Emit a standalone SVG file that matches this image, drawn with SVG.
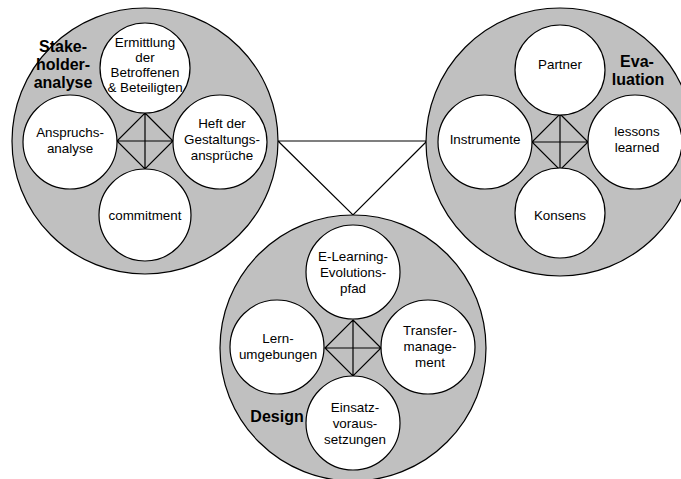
<svg xmlns="http://www.w3.org/2000/svg" width="681" height="479" viewBox="0 0 681 479">
  <defs>
    <style>
      .big { fill: #c0c0c0; stroke: #000; stroke-width: 1.2; }
      .small { fill: #fff; stroke: #000; stroke-width: 1.2; }
      .diam { fill: none; stroke: #000; stroke-width: 1.2; }
      .conn { fill: none; stroke: #000; stroke-width: 1.2; }
      text { font-family: "Liberation Sans", Arial, sans-serif; fill: #000; text-anchor: middle; }
      .t { font-size: 13.4px; }
      .h { font-size: 16px; font-weight: bold; }
    </style>
  </defs>

  <!-- connectors: triangle linking the three phases -->
  <g id="connectors">
    <path class="conn" d="M278,141 L427,141 L353,215 Z"/>
  </g>

  <!-- Stakeholderanalyse -->
  <g id="stakeholderanalyse">
    <circle class="big" cx="145" cy="141" r="133"/>
    <path class="diam" d="M145,113 L173,141 L145,169 L117,141 Z M145,113 V169 M117,141 H173"/>
    <text class="h" x="63" y="52">Stake-</text>
    <text class="h" x="63" y="70">holder-</text>
    <text class="h" x="63" y="88">analyse</text>
  </g>
  <g id="ermittlung">
    <circle class="small" cx="145" cy="68" r="45"/>
    <text class="t" x="145" y="47">Ermittlung</text>
    <text class="t" x="145" y="62">der</text>
    <text class="t" x="145" y="77">Betroffenen</text>
    <text class="t" x="145" y="92">&amp; Beteiligten</text>
  </g>
  <g id="anspruchsanalyse">
    <circle class="small" cx="70" cy="142" r="47"/>
    <text class="t" x="70" y="137">Anspruchs-</text>
    <text class="t" x="70" y="153">analyse</text>
  </g>
  <g id="heft">
    <circle class="small" cx="220" cy="142" r="47"/>
    <text class="t" x="222" y="128">Heft der</text>
    <text class="t" x="222" y="144">Gestaltungs-</text>
    <text class="t" x="222" y="160">ansprüche</text>
  </g>
  <g id="commitment">
    <circle class="small" cx="145" cy="215" r="46"/>
    <text class="t" x="145" y="220">commitment</text>
  </g>

  <!-- Evaluation -->
  <g id="evaluation">
    <circle class="big" cx="560" cy="142" r="134"/>
    <path class="diam" d="M560,114 L588,142 L560,170 L532,142 Z M560,114 V170 M532,142 H588"/>
    <text class="h" x="637" y="67">Eva-</text>
    <text class="h" x="638" y="85">luation</text>
  </g>
  <g id="partner">
    <circle class="small" cx="560" cy="70" r="45"/>
    <text class="t" x="560" y="69">Partner</text>
  </g>
  <g id="instrumente">
    <circle class="small" cx="485" cy="142" r="47"/>
    <text class="t" x="485" y="144">Instrumente</text>
  </g>
  <g id="lessons">
    <circle class="small" cx="635" cy="142" r="47"/>
    <text class="t" x="637" y="136">lessons</text>
    <text class="t" x="637" y="152">learned</text>
  </g>
  <g id="konsens">
    <circle class="small" cx="560" cy="213" r="45"/>
    <text class="t" x="560" y="220">Konsens</text>
  </g>

  <!-- Design -->
  <g id="design">
    <circle class="big" cx="353" cy="348" r="133"/>
    <path class="diam" d="M353,320 L381,348 L353,376 L325,348 Z M353,320 V376 M325,348 H381"/>
    <text class="h" x="277" y="422">Design</text>
  </g>
  <g id="evolutionspfad">
    <circle class="small" cx="353" cy="272" r="47"/>
    <text class="t" x="353" y="261">E-Learning-</text>
    <text class="t" x="353" y="277">Evolutions-</text>
    <text class="t" x="353" y="293">pfad</text>
  </g>
  <g id="lernumgebungen">
    <circle class="small" cx="277" cy="347" r="47"/>
    <text class="t" x="278" y="343">Lern-</text>
    <text class="t" x="278" y="359">umgebungen</text>
  </g>
  <g id="transfermanagement">
    <circle class="small" cx="428" cy="347" r="47"/>
    <text class="t" x="430" y="335">Transfer-</text>
    <text class="t" x="430" y="351">manage-</text>
    <text class="t" x="430" y="367">ment</text>
  </g>
  <g id="einsatzvoraussetzungen">
    <circle class="small" cx="353" cy="423" r="47"/>
    <text class="t" x="355" y="412">Einsatz-</text>
    <text class="t" x="355" y="428">voraus-</text>
    <text class="t" x="355" y="444">setzungen</text>
  </g>
</svg>
